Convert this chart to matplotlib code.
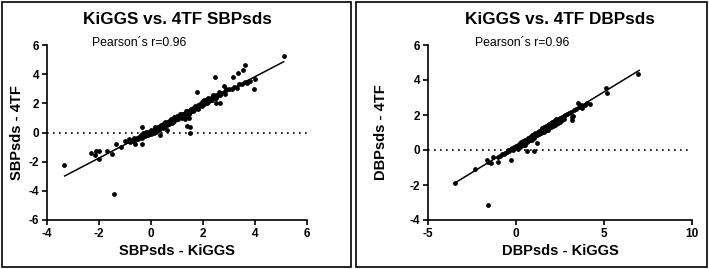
import matplotlib
matplotlib.use("Agg")
import matplotlib.pyplot as plt
from matplotlib.patches import Rectangle

plt.rcParams['font.family'] = ['Liberation Sans', 'DejaVu Sans']

# SBP panel: KiGGS (x) vs 4TF (y)
sbp_x = [-3.33, -1.43, 5.1, -2.3, -2.1, -2.0, -2.15, -2.0, -1.7, -1.5, -1.35, -1.15,
         -0.6, -0.35, -0.35, 0.35, 1.5, 1.4, 1.5, 2.45, 3.15, 3.55, 3.6, 3.35,
         3.95, 4.0, 3.75, 1.77, 2.8, 2.9, 2.5, 2.65,
         -1.0, -0.9, -0.85, -0.8, -0.75, -0.7, -0.65, -0.6, -0.55, -0.5, -0.45, -0.4,
         -0.35, -0.3, -0.3, -0.25, -0.2, -0.15, -0.1, -0.1, -0.05, 0.0, 0.0, 0.05,
         0.1, 0.1, 0.15, 0.2, 0.2, 0.25, 0.3, 0.3, 0.35, 0.4, 0.45, 0.5, 0.5, 0.55,
         0.6, 0.6, 0.65, 0.7, 0.7, 0.75, 0.8, 0.85, 0.9, 0.9, 0.95, 1.0, 1.0, 1.05,
         1.1, 1.15, 1.2, 1.2, 1.25, 1.3, 1.3, 1.35, 1.4, 1.4, 1.45, 1.5, 1.5, 1.55,
         1.6, 1.6, 1.65, 1.7, 1.7, 1.75, 1.8, 1.8, 1.85, 1.9, 1.95, 2.0, 2.0, 2.05,
         2.1, 2.15, 2.2, 2.2, 2.25, 2.3, 2.35, 2.4, 2.45, 2.5, 2.5, 2.55, 2.6, 2.65,
         2.7, 2.8, 2.85, 2.9, 3.0, 3.1, 3.2, 3.3, 3.4, 3.5, 3.6, 3.7, 3.8,
         1.45, 1.3, 0.6, 0.0, 0.15, 0.45, 0.9, 1.1, 0.75, 1.25, 1.7, 2.05, 2.3, 0.55,
         -0.2, 0.35, 0.8, 1.0, 1.6, 1.95, 2.4, 2.2, 1.35, 0.25]
sbp_y = [-2.23, -4.2, 5.27, -1.38, -1.25, -1.3, -1.55, -1.85, -1.3, -1.45, -0.8, -1.0,
         -0.8, -0.8, 0.35, -0.2, 0.0, 0.45, 0.4, 3.8, 3.8, 4.3, 4.6, 4.05,
         2.95, 3.7, 3.5, 2.75, 3.2, 2.95, 2.0, 2.0,
         -0.55, -0.6, -0.45, -0.65, -0.5, -0.6, -0.4, -0.5, -0.35, -0.45, -0.3, -0.2,
         -0.35, -0.15, -0.05, -0.25, -0.1, 0.0, -0.2, 0.05, -0.05, 0.1, -0.1, 0.0,
         0.15, -0.05, 0.2, 0.05, 0.3, 0.25, 0.4, 0.2, 0.35, 0.5, 0.3, 0.55, 0.4, 0.7,
         0.5, 0.75, 0.6, 0.8, 0.55, 0.7, 0.85, 0.75, 0.95, 0.8, 1.0, 0.9, 1.1, 0.95,
         1.05, 1.2, 1.0, 1.3, 1.15, 1.35, 1.1, 1.25, 1.4, 1.5, 1.3, 1.55, 1.4, 1.6,
         1.45, 1.7, 1.55, 1.65, 1.8, 1.7, 1.9, 1.6, 1.8, 1.95, 1.85, 2.0, 2.15, 1.95,
         2.2, 2.05, 2.3, 2.1, 2.25, 2.4, 2.2, 2.5, 2.35, 2.6, 2.4, 2.5, 2.75, 2.55,
         2.7, 2.8, 2.65, 2.9, 2.95, 3.0, 3.1, 3.05, 3.3, 3.35, 3.45, 3.4, 3.5,
         1.0, 0.9, 0.2, 0.2, 0.35, 0.55, 1.05, 1.25, 0.95, 1.3, 1.75, 2.25, 2.2, 0.6,
         0.05, 0.45, 0.65, 1.0, 1.6, 2.1, 2.55, 2.35, 1.5, 0.35]
sbp_fit_x = [-3.32, 5.1]
sbp_fit_y = [-2.98, 4.85]

# DBP panel: KiGGS (x) vs 4TF (y)
dbp_x = [-3.48, -1.57, 6.95, -2.35, -1.65, -1.6, -1.4, -1.0, -1.3, -0.3, 0.65, 1.03,
         1.18, 3.2, 3.25, 3.74, 5.1, 5.15, 4.05, 4.2, 3.5, 3.7,
         -1.0, -0.9, -0.8, -0.7, -0.6, -0.5, -0.45, -0.4, -0.3, -0.25, -0.2, -0.1,
         -0.05, 0.0, 0.0, 0.1, 0.15, 0.2, 0.25, 0.3, 0.35, 0.4, 0.45, 0.5, 0.55, 0.6,
         0.65, 0.7, 0.75, 0.8, 0.85, 0.9, 0.95, 1.0, 1.05, 1.1, 1.15, 1.2, 1.25, 1.3,
         1.35, 1.4, 1.45, 1.5, 1.55, 1.6, 1.65, 1.7, 1.75, 1.8, 1.85, 1.9, 1.95, 2.0,
         2.05, 2.1, 2.15, 2.2, 2.25, 2.3, 2.35, 2.4, 2.5, 2.55, 2.6, 2.7, 2.8, 2.9,
         3.0, 3.1, 3.3, 3.4, 3.6, 3.9,
         0.2, 0.4, 0.6, 0.8, 1.0, 1.2, 1.4, 1.6, 1.8, 2.0, 2.2, 2.4, 2.6, 0.1, 0.5,
         0.9, 1.3, 1.7, 2.1, 2.5, 2.7, 3.2, -0.15, 0.3, 0.7, 1.5, 1.9, 2.3, 2.45]
dbp_y = [-1.9, -3.14, 4.34, -1.09, -0.55, -0.7, -0.75, -0.67, -0.4, -0.57, -0.06, -0.06,
         0.42, 1.71, 1.95, 2.38, 3.52, 3.24, 2.67, 2.65, 2.67, 2.6,
         -0.4, -0.35, -0.25, -0.2, -0.15, -0.1, 0.0, -0.05, 0.05, 0.1, 0.05, 0.15,
         0.2, 0.25, 0.1, 0.3, 0.2, 0.4, 0.3, 0.45, 0.35, 0.5, 0.4, 0.55, 0.45, 0.6,
         0.55, 0.7, 0.6, 0.75, 0.65, 0.85, 0.75, 0.9, 0.8, 0.95, 0.85, 1.0, 1.05, 1.1,
         1.0, 1.15, 1.1, 1.25, 1.2, 1.3, 1.25, 1.35, 1.3, 1.45, 1.4, 1.5, 1.45, 1.55,
         1.6, 1.5, 1.65, 1.6, 1.7, 1.75, 1.65, 1.8, 1.85, 1.75, 1.9, 1.95, 2.0, 2.05,
         2.1, 2.15, 2.3, 2.35, 2.45, 2.6,
         0.15, 0.3, 0.45, 0.55, 0.7, 0.85, 0.95, 1.05, 1.15, 1.3, 1.45, 1.55, 1.7, 0.05, 0.3,
         0.6, 0.9, 1.15, 1.4, 1.6, 1.75, 1.9, 0.0, 0.3, 0.5, 1.05, 1.3, 1.5, 1.7]
dbp_fit_x = [-3.5, 7.0]
dbp_fit_y = [-1.9, 4.55]

W, H = 709, 269
fig = plt.figure(figsize=(W / 100, H / 100), dpi=100)


def fx(px):
    return px / W


def fy(py):
    return 1 - py / H


def panel(left_px, right_px, ylab_px, xs, ys, fit_x, fit_y, xlim, ylim, xticks, yticks,
          title, xlabel, ylabel):
    ax = fig.add_axes([fx(left_px), fy(220), (right_px - left_px) / W, 175 / H])
    ax.scatter(xs, ys, s=12, c='black', linewidths=0, zorder=3)
    ax.plot(fit_x, fit_y, color='black', lw=1.1, zorder=2)
    ax.axhline(0, color='black', lw=1.2, linestyle=(0, (1, 2.6)), zorder=1)
    ax.set_xlim(*xlim)
    ax.set_ylim(*ylim)
    ax.set_xticks(xticks)
    ax.set_yticks(yticks)
    ax.set_xticklabels([str(t) for t in xticks], fontweight='bold', fontsize=8.5)
    ax.set_yticklabels([str(t) for t in yticks], fontweight='bold', fontsize=8.5)
    for s in ('top', 'right'):
        ax.spines[s].set_visible(False)
    for s in ('left', 'bottom'):
        ax.spines[s].set_linewidth(1.2)
    ax.tick_params(direction='out', length=3.5, width=1.2, pad=2)
    ax.set_xlabel(xlabel, fontweight='bold', fontsize=10.5, labelpad=3)
    ax.set_ylabel(ylabel, fontweight='bold', fontsize=10.5, va='center')
    ax.yaxis.set_label_coords((ylab_px - left_px) / (right_px - left_px), 0.5)
    ax.set_title(title, fontweight='bold', fontsize=12.3, pad=15)
    return ax


ax1 = panel(47, 307, 17, sbp_x, sbp_y, sbp_fit_x, sbp_fit_y, (-4, 6), (-6, 6),
            [-4, -2, 0, 2, 4, 6], [-6, -4, -2, 0, 2, 4, 6],
            'KiGGS vs. 4TF SBPsds', 'SBPsds - KiGGS', 'SBPsds - 4TF')
ax2 = panel(428, 692, 381, dbp_x, dbp_y, dbp_fit_x, dbp_fit_y, (-5, 10), (-4, 6),
            [-5, 0, 5, 10], [-4, -2, 0, 2, 4, 6],
            'KiGGS vs. 4TF DBPsds', 'DBPsds - KiGGS', 'DBPsds - 4TF')

fig.text(fx(92), fy(43), 'Pearson\u00b4s r=0.96', fontsize=8.8, va='center', ha='left')
fig.text(fx(475), fy(43), 'Pearson\u00b4s r=0.96', fontsize=8.8, va='center', ha='left')

# panel frames
for x0, x1 in ((2, 351), (356, 707)):
    fig.patches.append(Rectangle((fx(x0), fy(267)), (x1 - x0) / W, 265 / H,
                                 transform=fig.transFigure, fill=False,
                                 edgecolor='black', lw=1.2))

fig.savefig('out.png', dpi=100)
